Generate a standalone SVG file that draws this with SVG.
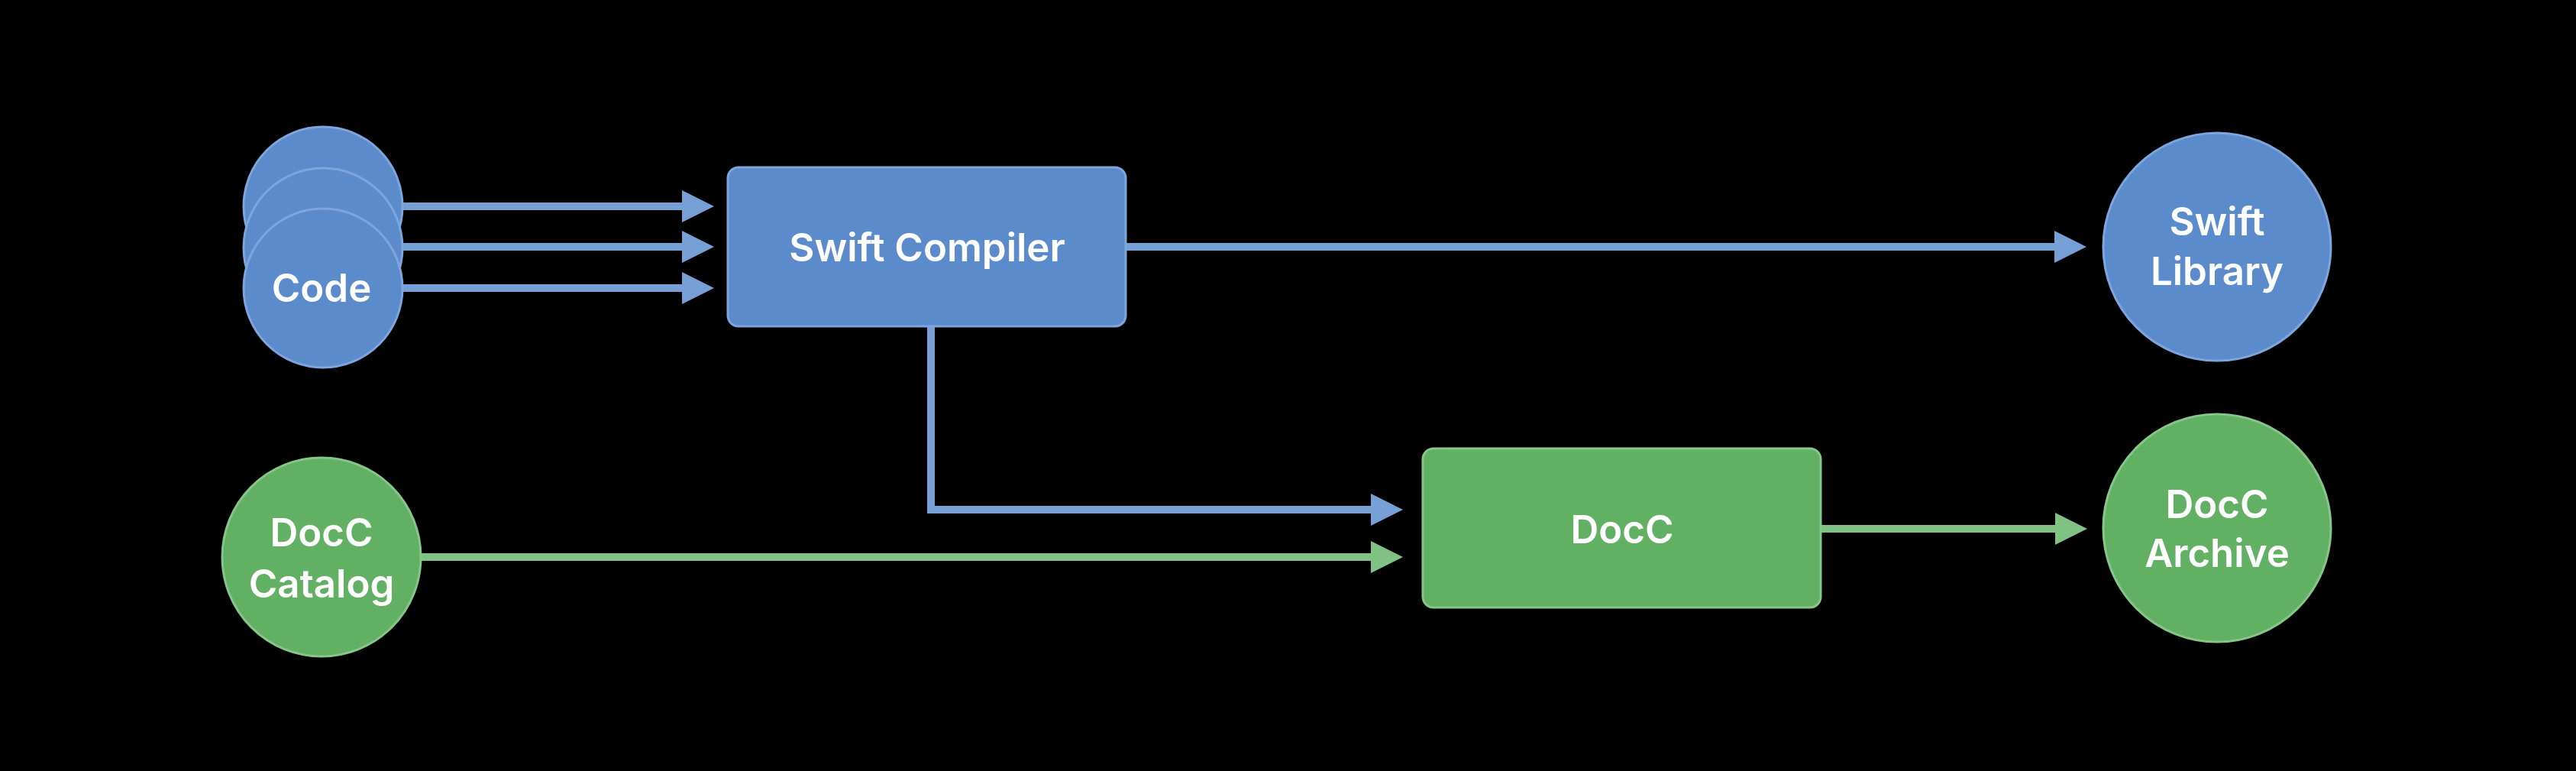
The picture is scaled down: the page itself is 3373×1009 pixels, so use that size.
<svg xmlns="http://www.w3.org/2000/svg" width="3373" height="1009" viewBox="0 0 3373 1009">
  <style>
    .blue { fill: #5b8bcb; stroke: #7ea6dc; stroke-width: 3; }
    .green { fill: #61b063; stroke: #86c789; stroke-width: 3; }
    .lb { fill: none; stroke: #76a0d6; stroke-width: 10; }
    .lg { fill: none; stroke: #80c184; stroke-width: 10; }
    .t { font-family: Inter, "Liberation Sans", sans-serif; font-weight: 600; font-size: 51px; fill: #ffffff; text-anchor: middle; }
  </style>
  <defs>
    <marker id="ab" markerUnits="userSpaceOnUse" markerWidth="42" markerHeight="42" refX="0" refY="21" orient="auto" viewBox="0 0 42 42">
      <path d="M0,0 L42,21 L0,42 Z" fill="#76a0d6"/>
    </marker>
    <marker id="ag" markerUnits="userSpaceOnUse" markerWidth="42" markerHeight="42" refX="0" refY="21" orient="auto" viewBox="0 0 42 42">
      <path d="M0,0 L42,21 L0,42 Z" fill="#80c184"/>
    </marker>
  </defs>
  <rect x="0" y="0" width="3373" height="1009" fill="#000000"/>

  <g id="connectors">
    <path class="lb" d="M520,270 H893" marker-end="url(#ab)"/>
    <path class="lb" d="M520,323 H893" marker-end="url(#ab)"/>
    <path class="lb" d="M520,377 H893" marker-end="url(#ab)"/>
    <path class="lb" d="M1474,323 H2690" marker-end="url(#ab)"/>
    <path class="lb" d="M1219,427 V667 H1795" marker-end="url(#ab)"/>
    <path class="lg" d="M550,729 H1795" marker-end="url(#ag)"/>
    <path class="lg" d="M2384,692 H2691" marker-end="url(#ag)"/>
  </g>

  <g id="code">
    <circle class="blue" cx="423" cy="270" r="104"/>
    <circle class="blue" cx="423" cy="324" r="104"/>
    <circle class="blue" cx="423" cy="377" r="104"/>
    <text class="t" x="421" y="395">Code</text>
  </g>

  <g id="swift-compiler">
    <rect class="blue" x="953" y="219" width="521" height="208" rx="14"/>
    <text class="t" x="1214" y="342">Swift Compiler</text>
  </g>

  <g id="swift-library">
    <circle class="blue" cx="2903" cy="323" r="149"/>
    <text class="t" x="2903" y="308">Swift</text>
    <text class="t" x="2903" y="373">Library</text>
  </g>

  <g id="docc-catalog">
    <circle class="green" cx="421" cy="729" r="130"/>
    <text class="t" x="421" y="715">DocC</text>
    <text class="t" x="421" y="782">Catalog</text>
  </g>

  <g id="docc">
    <rect class="green" x="1863" y="587" width="521" height="208" rx="14"/>
    <text class="t" x="2124" y="711">DocC</text>
  </g>

  <g id="docc-archive">
    <circle class="green" cx="2903" cy="691" r="149"/>
    <text class="t" x="2903" y="678">DocC</text>
    <text class="t" x="2903" y="742">Archive</text>
  </g>
</svg>
